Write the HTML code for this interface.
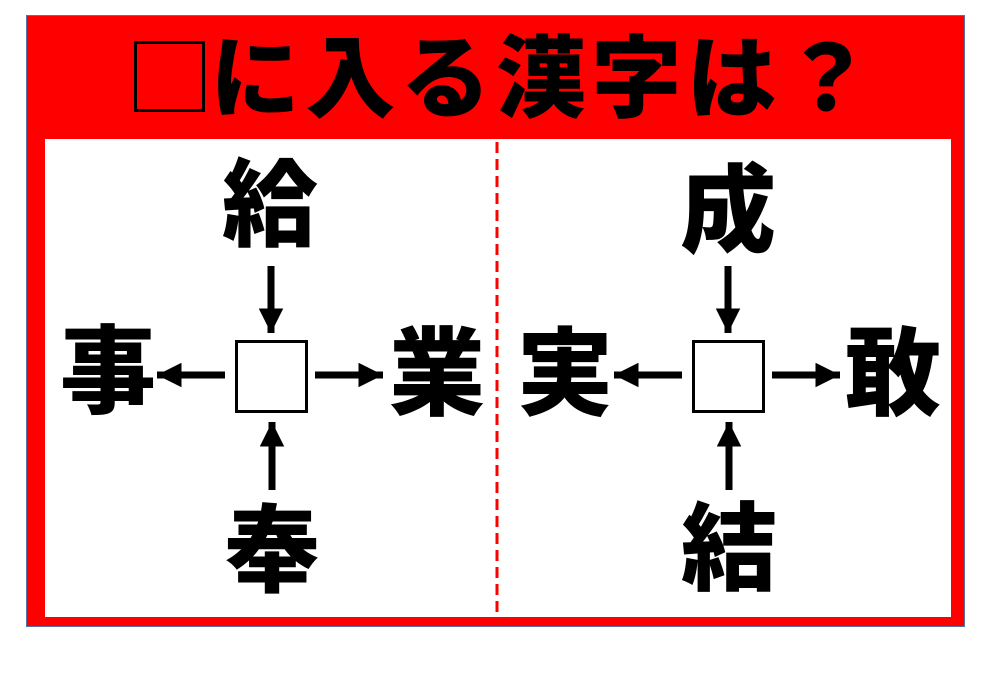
<!DOCTYPE html>
<html><head><meta charset="utf-8"><style>
html,body{margin:0;padding:0;background:#fff;}
svg{display:block;}
text{font-family:"Liberation Sans","Noto Sans CJK JP",sans-serif;font-weight:900;fill:#000;}
</style></head><body>
<svg width="1000" height="685" viewBox="0 0 1000 685" xmlns="http://www.w3.org/2000/svg">
<defs>
<marker id="a" viewBox="0 0 10 10" refX="10" refY="5" markerWidth="3.5" markerHeight="3.5" orient="auto" markerUnits="strokeWidth">
<path d="M0,0 L10,5 L0,10 Z" fill="#000"/></marker>
</defs>
<rect x="26.5" y="15.5" width="938" height="611" fill="#ff0000" stroke="#5a6fa8" stroke-width="1"/>
<rect x="45" y="139" width="906" height="478" fill="#fff"/>
<line x1="497" y1="142" x2="497" y2="615" stroke="#ff0000" stroke-width="3" stroke-dasharray="11,6"/>
<rect x="135.5" y="42.5" width="68" height="68" fill="none" stroke="#000" stroke-width="3"/>
<text x="210" y="80" font-size="90" dominant-baseline="central" textLength="662" lengthAdjust="spacing">に入る漢字は？</text>
<g font-size="96" text-anchor="middle" dominant-baseline="central">
<text x="270" y="206">給</text>
<text x="108" y="373">事</text>
<text x="437" y="375">業</text>
<text x="272" y="552">奉</text>
<text x="728" y="212">成</text>
<text x="565" y="375">実</text>
<text x="893" y="375">敢</text>
<text x="729" y="550">結</text>
</g>
<g stroke="#000" stroke-width="7">
<line x1="271" y1="266" x2="271" y2="333" marker-end="url(#a)"/>
<line x1="225" y1="375" x2="157" y2="375" marker-end="url(#a)"/>
<line x1="315" y1="375" x2="383" y2="375" marker-end="url(#a)"/>
<line x1="272" y1="490" x2="272" y2="422" marker-end="url(#a)"/>
<line x1="728" y1="266" x2="728" y2="333" marker-end="url(#a)"/>
<line x1="682" y1="375" x2="614" y2="375" marker-end="url(#a)"/>
<line x1="772" y1="375" x2="840" y2="375" marker-end="url(#a)"/>
<line x1="729" y1="490" x2="729" y2="422" marker-end="url(#a)"/>
</g>
<rect x="236.5" y="341.5" width="70" height="70" fill="#fff" stroke="#000" stroke-width="3"/>
<rect x="693.5" y="341.5" width="70" height="70" fill="#fff" stroke="#000" stroke-width="3"/>
</svg>
</body></html>
